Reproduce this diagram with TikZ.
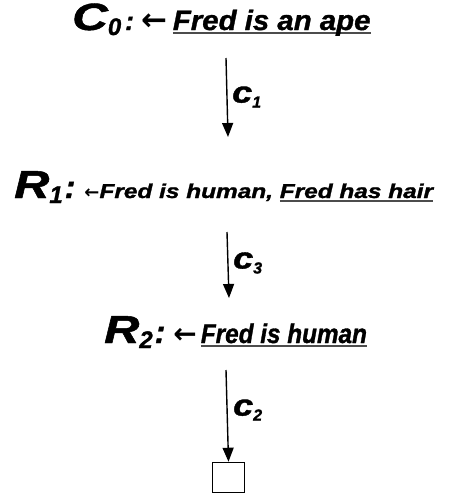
\documentclass[tikz,border=0pt]{standalone}
\usepackage{fontspec}
\setmainfont{Liberation Sans}
\newfontfamily\heavy[FakeBold=1.2]{Liberation Sans Bold Italic}
\newfontfamily\arrowfont{DejaVu Sans Bold}
\usepackage{graphicx}
\usetikzlibrary{positioning,arrows.meta}
\newcommand{\ulfact}[1]{\setbox0\hbox{#1}\rlap{\color{black!70}\rule[-4pt]{\wd0}{2pt}}\box0}
\newcommand{\fsz}[1]{\fontsize{#1}{#1}\selectfont}
\newcommand{\sub}[2]{\raisebox{-5pt}{\fsz{#1}#2}}
\tikzset{
  clause/.style={inner sep=0pt, font=\heavy},
  flow/.style={-{Triangle[length=14pt,width=11pt]}, line width=1.4pt},
  stepname/.style={font=\heavy\fsz{30}, inner sep=0pt, anchor=west},
  emptybox/.style={draw, line width=1.5pt, minimum width=32pt, minimum height=30pt, inner sep=0pt}
}
\begin{document}
\begin{tikzpicture}[x=1pt, y=-1pt]
\useasboundingbox (0,0) rectangle (448,498);

% clauses
\node[clause, anchor=base west] (c0) at (72,30)
  {\scalebox{1.3}[1]{\fsz{38}C}\sub{24}{0}\hspace{4pt}{\fsz{26}:}\hspace{8pt}{\arrowfont\fsz{31}←}\hspace{5pt}\scalebox{1.05}[1]{\fsz{28}\ulfact{Fred is an ape}}};
\node[clause, anchor=base west] (r1) at (14,198)
  {\scalebox{1.25}[1]{\fsz{39}R}\sub{24}{1}\hspace{2pt}{\fsz{32}:}\hspace{9pt}{\arrowfont\fsz{18}←}\scalebox{1.22}[1]{\fsz{20}Fred is human, \ulfact{Fred has hair}}};
\node[clause, anchor=base west] (r2) at (104,343)
  {\scalebox{1.25}[1]{\fsz{39}R}\sub{24}{2}\hspace{2pt}{\fsz{32}:}\hspace{8pt}{\arrowfont\fsz{28}←}\hspace{4pt}\scalebox{0.9}[1]{\fsz{27}\ulfact{Fred is human}}};
\node[emptybox] (box) at (228.5,477.5) {};

% arrow ends
\coordinate (a1) at (226,58);
\coordinate (b1) at (228,137);
\coordinate (a2) at (227,232);
\coordinate (b2) at (229,298);
\coordinate (a3) at (226,370);

% resolution steps
\draw[flow] (a1) -- (b1);
\draw[flow] (a2) -- (b2);
\draw[flow] (a3) -- (box.north);
\node[stepname] (s1) at (232,97) {\scalebox{1.2}[1]{c}\sub{16}{1}};
\node[stepname] (s3) at (233,263) {\scalebox{1.2}[1]{c}\sub{16}{3}};
\node[stepname] (s2) at (233,410) {\scalebox{1.2}[1]{c}\sub{16}{2}};

\end{tikzpicture}
\end{document}
